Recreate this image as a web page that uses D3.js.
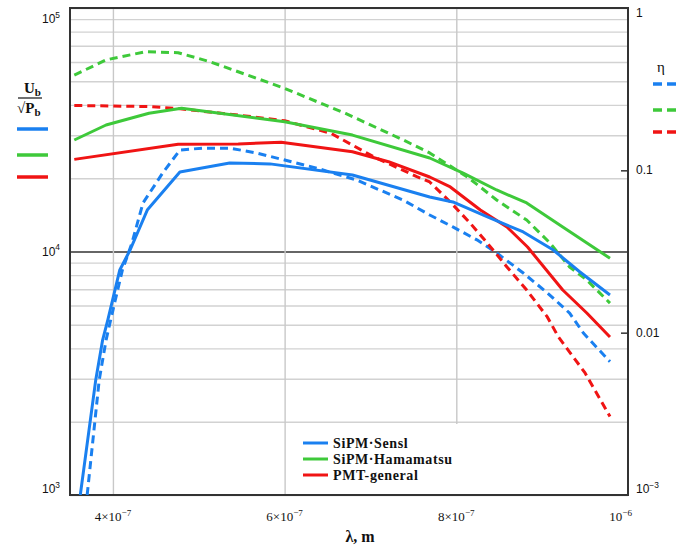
<!DOCTYPE html>
<html>
<head>
<meta charset="utf-8">
<script src="https://cdn.jsdelivr.net/npm/d3@7"></script>
<style>
  body { margin: 0; background: #fff; }
  text { fill: #111; }
  .serif { font-family: "Liberation Serif", "DejaVu Serif", serif; }
  .sans { font-family: "Liberation Sans", Arial, sans-serif; }
</style>
</head>
<body>
<div id="graph"></div>
<script>
// wavelengths in nm; U = Ub/sqrt(Pb) (left axis), eta = quantum efficiency (right axis)
var sensU_nm = [362, 380, 388, 394, 408, 420, 440, 478, 536, 583, 679, 769, 796, 839, 878, 913, 944, 979];
var sensU    = [1000, 2970, 4330, 5230, 8400, 10140, 14800, 21210, 23090, 22900, 20620, 16750, 15970, 13730, 12030, 10140, 8240, 6630];
var sensEta_nm = [370, 384, 392, 401, 411, 422, 435, 458, 478, 505, 536, 567, 638, 684, 738, 769, 796, 824, 847, 878, 906, 932, 948, 979];
var sensEta    = [0.001, 0.0051, 0.009, 0.0145, 0.0243, 0.0355, 0.0629, 0.0963, 0.1334, 0.137, 0.137, 0.128, 0.103, 0.0871, 0.0656, 0.0531, 0.0448, 0.0373, 0.031, 0.0233, 0.0176, 0.0132, 0.00995, 0.00663];

var hamU_nm = [355, 392, 442, 480, 600, 679, 769, 808, 847, 882, 924, 979];
var hamU    = [28700, 33070, 36950, 38730, 34130, 30070, 24210, 21000, 17890, 15820, 12610, 9380];
var hamEta_nm = [355, 392, 438, 476, 513, 600, 671, 738, 769, 813, 847, 882, 909, 932, 952, 967, 979];
var hamEta    = [0.386, 0.479, 0.538, 0.53, 0.467, 0.32, 0.224, 0.154, 0.128, 0.091, 0.0657, 0.0494, 0.0357, 0.0254, 0.0211, 0.0176, 0.0152];

var pmtU_nm = [355, 476, 546, 596, 679, 721, 769, 793, 828, 859, 883, 924, 952, 979];
var pmtU    = [23900, 27550, 27650, 28090, 25700, 23380, 20230, 18410, 14800, 12610, 10430, 6950, 5590, 4456];
var pmtEta_nm = [355, 442, 476, 546, 600, 654, 704, 754, 769, 793, 816, 836, 859, 882, 906, 919, 950, 979];
var pmtEta    = [0.251, 0.247, 0.24, 0.219, 0.202, 0.169, 0.121, 0.0915, 0.0848, 0.0638, 0.0474, 0.0357, 0.0254, 0.0183, 0.0125, 0.0094, 0.00565, 0.00304];

var seriesNames = ['SiPM·Sensl', 'SiPM·Hamamatsu', 'PMT-general'];
var seriesColors = ['#1a80f0', '#3ec93a', '#f01414'];

var xTicks = [4e-7, 6e-7, 8e-7, 1e-6];
var xTickLabels = ['4×10^−7', '6×10^−7', '8×10^−7', '10^−6'];
var leftTicks = [1e3, 1e4, 1e5];
var leftTickLabels = ['10^3', '10^4', '10^5'];
var rightTicks = [1e-3, 0.01, 0.1, 1];
var rightTickLabels = ['10^−3', '0.01', '0.1', '1'];

var svgWidth = 693, svgHeight = 548;
var pLeft = 70, pRight = 628, pTop = 8, pBottom = 495;

var svg = d3.select('#graph').append('svg')
  .attr('width', svgWidth).attr('height', svgHeight);
svg.append('rect').attr('width', svgWidth).attr('height', svgHeight).attr('fill', '#fff');

var x = d3.scaleLinear().domain([3.5e-7, 1e-6]).range([pLeft, pRight]);
var yL = d3.scaleLog().domain([1e3, 1e5]).range([pBottom, pTop]);
var yR = d3.scaleLog().domain([1e-3, 1]).range([pBottom, pTop]);

// horizontal grid (left log axis)
var hGrid = svg.append('g').attr('transform', 'translate(' + pLeft + ',0)')
  .call(d3.axisLeft(yL).tickValues(yL.ticks()).tickSize(-(pRight - pLeft)).tickFormat(''));
hGrid.select('.domain').remove();
hGrid.selectAll('line')
  .attr('stroke', function (d) { return d === 1e4 ? '#333' : '#d2d2d2'; })
  .attr('stroke-width', function (d) { return d === 1e4 ? 1.6 : 1.4; });

// vertical grid
var vGrid = svg.append('g').attr('transform', 'translate(0,' + pBottom + ')')
  .call(d3.axisBottom(x).tickValues(xTicks.slice(0, 3)).tickSize(-(pBottom - pTop)).tickFormat(''));
vGrid.select('.domain').remove();
vGrid.selectAll('line').attr('stroke', '#c8c8c8').attr('stroke-width', 1.4);

// legend background hides grid below it
svg.append('rect').attr('x', 292).attr('y', 424).attr('width', 185).attr('height', 70).attr('fill', '#fff');

// right axis small ticks
var rAxis = svg.append('g').attr('transform', 'translate(' + pRight + ',0)')
  .call(d3.axisRight(yR).tickValues([0.01, 0.1]).tickSizeInner(-7).tickSizeOuter(0).tickFormat(''));
rAxis.select('.domain').remove();
rAxis.selectAll('line').attr('stroke', '#333').attr('stroke-width', 1.5);

// frame
svg.append('rect').attr('x', pLeft).attr('y', pTop).attr('width', pRight - pLeft).attr('height', pBottom - pTop)
  .attr('fill', 'none').attr('stroke', '#333').attr('stroke-width', 2);

// curves
function zip(a, b) { return a.map(function (v, i) { return [v * 1e-9, b[i]]; }); }
var lineL = d3.line().x(function (d) { return x(d[0]); }).y(function (d) { return yL(d[1]); });
var lineR = d3.line().x(function (d) { return x(d[0]); }).y(function (d) { return yR(d[1]); });

var curves = [
  { data: zip(sensEta_nm, sensEta), right: true, c: 0 },
  { data: zip(hamEta_nm, hamEta), right: true, c: 1 },
  { data: zip(pmtEta_nm, pmtEta), right: true, c: 2 },
  { data: zip(hamU_nm, hamU), right: false, c: 1 },
  { data: zip(pmtU_nm, pmtU), right: false, c: 2 },
  { data: zip(sensU_nm, sensU), right: false, c: 0 }
];
svg.append('clipPath').attr('id', 'plotclip').append('rect')
  .attr('x', pLeft).attr('y', pTop).attr('width', pRight - pLeft).attr('height', pBottom - pTop);
svg.append('g').attr('clip-path', 'url(#plotclip)').selectAll('path').data(curves).enter().append('path')
  .attr('d', function (d) { return d.right ? lineR(d.data) : lineL(d.data); })
  .attr('fill', 'none')
  .attr('stroke', function (d) { return seriesColors[d.c]; })
  .attr('stroke-width', 3)
  .attr('stroke-linejoin', 'round')
  .attr('stroke-dasharray', function (d) { return d.right ? '8,5' : null; });

// text with a superscript written as base^exp
function supText(g, str, size, cls) {
  var parts = str.split('^');
  var t = g.append('text').attr('class', cls).attr('font-size', size);
  t.append('tspan').text(parts[0]);
  if (parts[1]) t.append('tspan').attr('font-size', size * 0.7).attr('dy', -size * 0.42).text(parts[1]);
  return t;
}

// x tick labels
xTicks.forEach(function (v, i) {
  var t = supText(svg, xTickLabels[i], 13, 'serif').attr('y', 521);
  if (i === xTicks.length - 1) t.attr('x', x(v) + 4).attr('text-anchor', 'end');
  else t.attr('x', x(v)).attr('text-anchor', 'middle');
});
svg.append('text').attr('class', 'serif').attr('x', 360).attr('y', 542).attr('text-anchor', 'middle')
  .attr('font-size', 16).attr('font-weight', 'bold').text('λ, m');

// left tick labels
leftTicks.forEach(function (v, i) {
  var cy = Math.max(19, Math.min(489, yL(v)));
  supText(svg, leftTickLabels[i], 12, 'sans').attr('x', 60).attr('y', cy + 4).attr('text-anchor', 'end');
});
// right tick labels
rightTicks.forEach(function (v, i) {
  var cy = Math.max(13, Math.min(489, yR(v)));
  supText(svg, rightTickLabels[i], 12, 'sans').attr('x', 636).attr('y', cy + 4);
});

// left legend: Ub / sqrt(Pb)
var frac = svg.append('g').attr('class', 'serif').attr('font-weight', 'bold');
var t1 = frac.append('text').attr('x', 24).attr('y', 93).attr('font-size', 15);
t1.append('tspan').text('U');
t1.append('tspan').attr('font-size', 11).attr('dy', 3).text('b');
frac.append('line').attr('x1', 18).attr('x2', 42).attr('y1', 98).attr('y2', 98).attr('stroke', '#111').attr('stroke-width', 1.2);
var t2 = frac.append('text').attr('x', 17).attr('y', 113).attr('font-size', 15);
t2.append('tspan').text('√P');
t2.append('tspan').attr('font-size', 11).attr('dy', 3).text('b');

var leftKeyY = [129, 155, 177];
svg.selectAll('.lkey').data(seriesColors).enter().append('line')
  .attr('x1', 17).attr('x2', 48)
  .attr('y1', function (d, i) { return leftKeyY[i]; }).attr('y2', function (d, i) { return leftKeyY[i]; })
  .attr('stroke', function (d) { return d; }).attr('stroke-width', 3.5);

// right legend: eta dashes
svg.append('text').attr('class', 'serif').attr('x', 661).attr('y', 72).attr('text-anchor', 'middle')
  .attr('font-size', 15).text('η');
var rightKeyY = [84, 110, 132];
svg.selectAll('.rkey').data(seriesColors).enter().append('line')
  .attr('x1', 653).attr('x2', 677)
  .attr('y1', function (d, i) { return rightKeyY[i]; }).attr('y2', function (d, i) { return rightKeyY[i]; })
  .attr('stroke', function (d) { return d; }).attr('stroke-width', 3.5).attr('stroke-dasharray', '9,5');

// bottom legend
var leg = svg.append('g');
seriesNames.forEach(function (name, i) {
  var ly = 443 + i * 16;
  leg.append('line').attr('x1', 303).attr('x2', 328).attr('y1', ly).attr('y2', ly)
    .attr('stroke', seriesColors[i]).attr('stroke-width', 3);
  leg.append('text').attr('class', 'serif').attr('x', 333).attr('y', ly + 4.5)
    .attr('font-size', 14).attr('font-weight', 'bold').attr('letter-spacing', 0.6).text(name);
});
</script>
</body>
</html>
